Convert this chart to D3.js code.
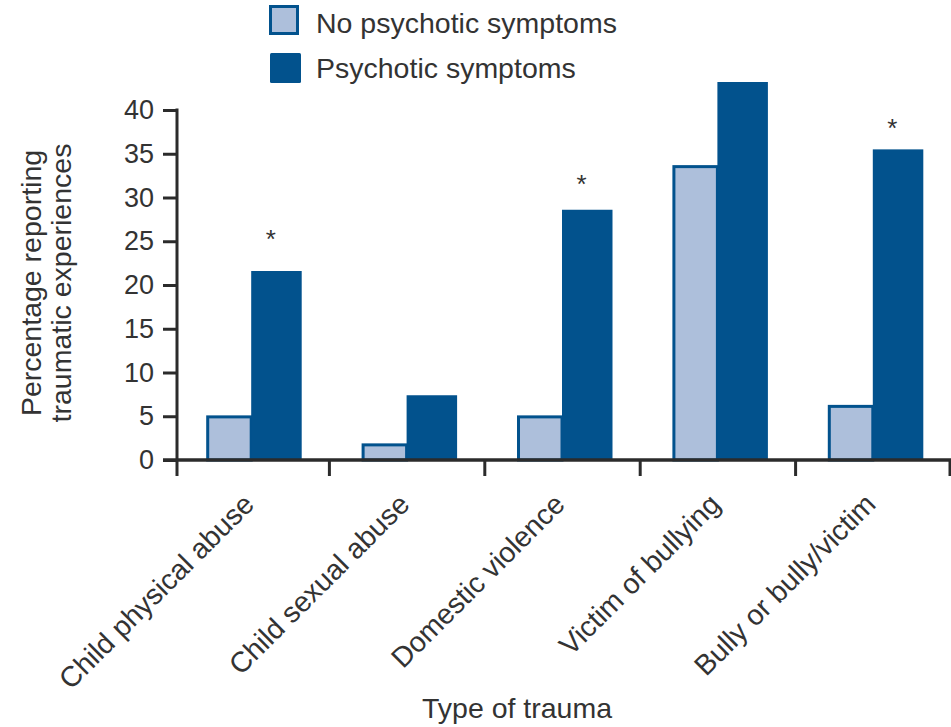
<!DOCTYPE html>
<html>
<head>
<meta charset="utf-8">
<script src="https://cdn.jsdelivr.net/npm/d3@7"></script>
<style>
  html, body { margin: 0; padding: 0; background: #fff; }
  svg { display: block; }
  text { font-family: "Liberation Sans", Arial, sans-serif; fill: #333; }
</style>
</head>
<body>
<svg id="chart" width="951" height="727"></svg>
<script>
const categories = ["Child physical abuse", "Child sexual abuse", "Domestic violence", "Victim of bullying", "Bully or bully/victim"];
const seriesNames = ["No psychotic symptoms", "Psychotic symptoms"];
const noPsychotic = [5.1, 1.9, 5.1, 33.7, 6.3];
const psychotic = [21.6, 7.4, 28.6, 43.2, 35.5];
const asteriskLevel = [26.0, null, 32.2, null, 38.6];
const yTicks = [0, 5, 10, 15, 20, 25, 30, 35, 40];

const darkBlue = "#02528d";
const lightBlue = "#adbfdb";
const axisColor = "#2b2b2b";

const svg = d3.select("#chart");

const x = d3.scaleBand().domain(categories).range([174, 951]).padding(0);
const y = d3.scaleLinear().domain([0, 40]).range([460, 110]);
const axisX = 177;
// sub-bar layout (relative to category centre)
const lightLeft = -45.5, split = -0.5, darkRight = 50;

const data = categories.map((c, i) => ({ cat: c, vals: [noPsychotic[i], psychotic[i]], ast: asteriskLevel[i] }));

const groups = svg.append("g").selectAll("g").data(data).join("g")
  .attr("transform", d => `translate(${x(d.cat) + x.bandwidth() / 2},0)`);

// light bars with dark outline
groups.append("rect")
  .attr("x", lightLeft + 1.5)
  .attr("width", split - lightLeft - 1.5)
  .attr("y", d => y(d.vals[0]) + 1.5)
  .attr("height", d => y(0) - y(d.vals[0]) - 1.5)
  .attr("fill", lightBlue)
  .attr("stroke", darkBlue)
  .attr("stroke-width", 3);

groups.append("rect")
  .attr("x", split)
  .attr("width", darkRight - split)
  .attr("y", d => y(d.vals[1]))
  .attr("height", d => y(0) - y(d.vals[1]))
  .attr("fill", darkBlue);

// asterisks
groups.filter(d => d.ast != null).append("text")
  .attr("x", 19)
  .attr("y", d => y(d.ast) + 15)
  .attr("text-anchor", "middle")
  .attr("font-size", 26)
  .text("*");

// Y axis
const yAxis = d3.axisLeft(y).tickValues(yTicks).tickSize(14).tickSizeOuter(0).tickPadding(9);
const gy = svg.append("g").attr("transform", `translate(${axisX},0)`).call(yAxis);
gy.select(".domain").remove();
gy.selectAll(".tick line").attr("stroke", axisColor).attr("stroke-width", 3);
gy.selectAll(".tick text").attr("font-size", 27).attr("fill", "#333")
  .attr("font-family", "Liberation Sans, Arial, sans-serif");
svg.append("line").attr("x1", axisX).attr("x2", axisX).attr("y1", y(40) - 1.5).attr("y2", y(0) + 16)
  .attr("stroke", axisColor).attr("stroke-width", 3);

// X axis line
svg.append("line").attr("x1", axisX - 14).attr("x2", 951).attr("y1", y(0)).attr("y2", y(0))
  .attr("stroke", axisColor).attr("stroke-width", 3.5);
// Category boundary ticks
const bounds = categories.slice(1).map(c => x(c)).concat([x(categories[categories.length - 1]) + x.bandwidth() - 1]);
svg.append("g").selectAll("line").data(bounds).join("line")
  .attr("x1", d => d).attr("x2", d => d)
  .attr("y1", y(0)).attr("y2", y(0) + 16)
  .attr("stroke", axisColor).attr("stroke-width", 3);

// X labels rotated
svg.append("g").selectAll("text").data(categories).join("text")
  .attr("transform", d => `translate(${x(d) + x.bandwidth() / 2 + 4},506) rotate(-45)`)
  .attr("text-anchor", "end")
  .attr("font-size", 28.5)
  .text(d => d);

// Axis titles
svg.append("text").attr("x", 517).attr("y", 718).attr("text-anchor", "middle")
  .attr("font-size", 28.5).text("Type of trauma");

const yt = svg.append("text").attr("transform", "translate(0,283) rotate(-90)")
  .attr("text-anchor", "middle").attr("font-size", 28.5);
yt.append("tspan").attr("x", 0).attr("y", 41).text("Percentage reporting");
yt.append("tspan").attr("x", 0).attr("y", 71).text("traumatic experiences");

// Legend
const legend = svg.append("g");
seriesNames.forEach((s, i) => {
  const sy = 5 + i * 48;
  if (i === 0) {
    legend.append("rect").attr("x", 270.5).attr("y", sy + 1.5).attr("width", 27).attr("height", 27)
      .attr("fill", lightBlue).attr("stroke", darkBlue).attr("stroke-width", 3);
  } else {
    legend.append("rect").attr("x", 270).attr("y", sy).attr("width", 31).attr("height", 30)
      .attr("rx", 1.5).attr("fill", darkBlue);
  }
  legend.append("text").attr("x", 316).attr("y", 33 + i * 45).attr("font-size", 28.5).text(s);
});
</script>
</body>
</html>
